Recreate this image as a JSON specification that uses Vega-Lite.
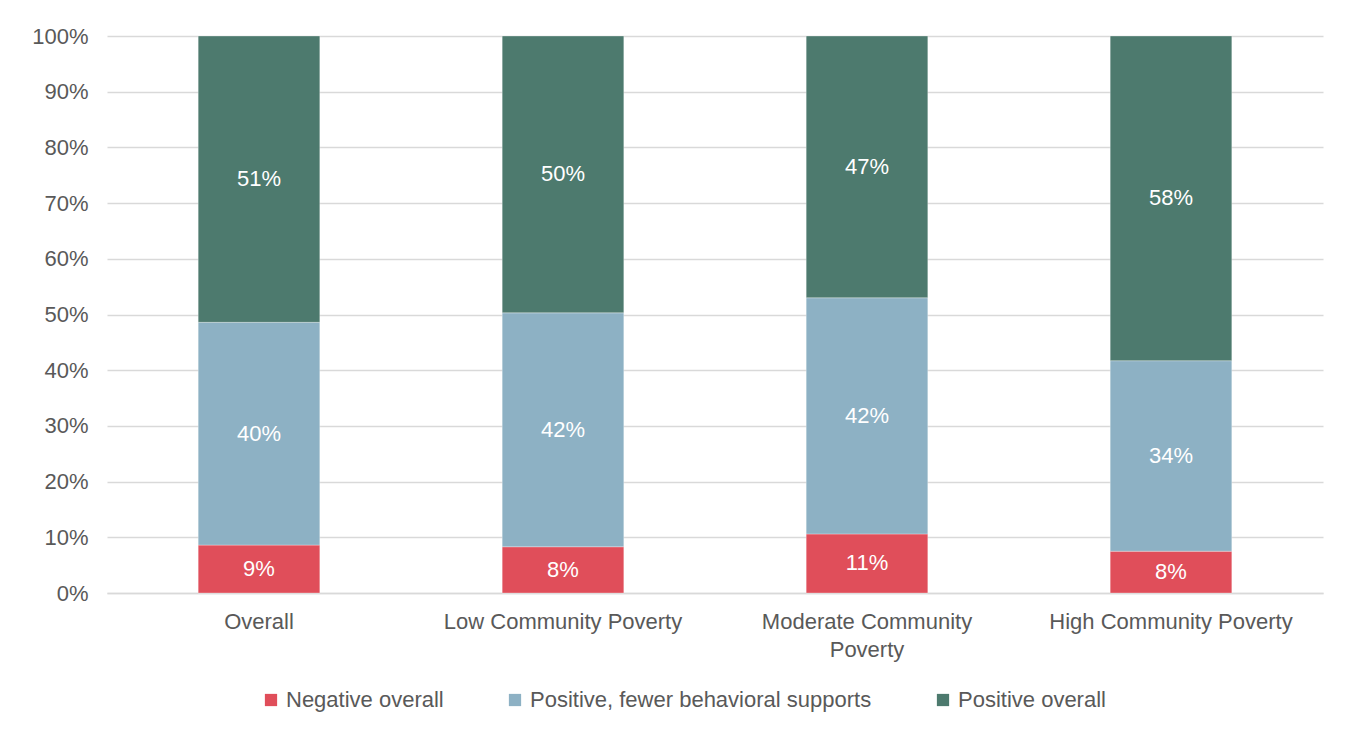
{
  "$schema": "https://vega.github.io/schema/vega-lite/v6.json",
  "autosize": {"type": "none"},
  "width": 1216,
  "height": 557,
  "padding": {"left": 107, "top": 36, "right": 31, "bottom": 141},
  "background": "white",
  "config": {
    "font": "Liberation Sans",
    "view": {"stroke": null},
    "axis": {"labelFont": "Liberation Sans", "labelFontSize": 22, "labelColor": "#595959", "labelLimit": 0},
    "legend": {"labelFont": "Liberation Sans", "labelFontSize": 22, "labelColor": "#595959", "labelLimit": 0}
  },
  "data": {
    "values": [
      {"group": "Overall", "rating": "Negative overall", "share": 0.086},
      {"group": "Overall", "rating": "Positive, fewer behavioral supports", "share": 0.40},
      {"group": "Overall", "rating": "Positive overall", "share": 0.514},
      {"group": "Low Community Poverty", "rating": "Negative overall", "share": 0.083},
      {"group": "Low Community Poverty", "rating": "Positive, fewer behavioral supports", "share": 0.42},
      {"group": "Low Community Poverty", "rating": "Positive overall", "share": 0.497},
      {"group": "Moderate Community Poverty", "rating": "Negative overall", "share": 0.106},
      {"group": "Moderate Community Poverty", "rating": "Positive, fewer behavioral supports", "share": 0.424},
      {"group": "Moderate Community Poverty", "rating": "Positive overall", "share": 0.47},
      {"group": "High Community Poverty", "rating": "Negative overall", "share": 0.075},
      {"group": "High Community Poverty", "rating": "Positive, fewer behavioral supports", "share": 0.342},
      {"group": "High Community Poverty", "rating": "Positive overall", "share": 0.583}
    ]
  },
  "transform": [
    {"calculate": "indexof(['Negative overall','Positive, fewer behavioral supports','Positive overall'], datum.rating)", "as": "rank"},
    {"stack": "share", "groupby": ["group"], "sort": [{"field": "rank", "order": "ascending"}], "as": ["lo", "hi"]},
    {"calculate": "(datum.lo + datum.hi) / 2", "as": "mid"}
  ],
  "encoding": {
    "x": {
      "field": "group",
      "type": "nominal",
      "sort": ["Overall", "Low Community Poverty", "Moderate Community Poverty", "High Community Poverty"],
      "scale": {"paddingInner": 0.6, "paddingOuter": 0.3},
      "axis": {
        "title": null,
        "labelAngle": 0,
        "ticks": false,
        "domain": true,
        "domainColor": "#D9D9D9",
        "domainWidth": 1.5,
        "labelPadding": 18,
        "labelLineHeight": 28,
        "labelExpr": "datum.value == 'Moderate Community Poverty' ? ['Moderate Community', 'Poverty'] : datum.value"
      }
    }
  },
  "layer": [
    {
      "mark": {"type": "bar", "stroke": "white", "strokeWidth": 0.5, "strokeOpacity": 0.6},
      "encoding": {
        "y": {
          "field": "lo",
          "type": "quantitative",
          "scale": {"domain": [0, 1]},
          "axis": {
            "title": null,
            "format": ".0%",
            "values": [0, 0.1, 0.2, 0.3, 0.4, 0.5, 0.6, 0.7, 0.8, 0.9, 1],
            "domain": false,
            "ticks": false,
            "labelPadding": 19,
            "grid": true,
            "gridColor": "#D9D9D9",
            "gridWidth": 1.5
          }
        },
        "y2": {"field": "hi"},
        "color": {
          "field": "rating",
          "type": "nominal",
          "scale": {
            "domain": ["Negative overall", "Positive, fewer behavioral supports", "Positive overall"],
            "range": ["#E04E5A", "#8DB1C4", "#4D7A6E"]
          },
          "legend": {
            "title": null,
            "orient": "none",
            "direction": "horizontal",
            "legendX": 153,
            "legendY": 653,
            "symbolType": "square",
            "symbolSize": 150,
            "symbolStrokeWidth": 0,
            "symbolOpacity": 1,
            "labelOffset": 4,
            "columnPadding": 60
          }
        }
      }
    },
    {
      "mark": {"type": "text", "color": "white", "fontSize": 22, "font": "Liberation Sans", "baseline": "middle"},
      "encoding": {
        "y": {"field": "mid", "type": "quantitative"},
        "text": {"field": "share", "type": "quantitative", "format": ".0%"}
      }
    }
  ]
}
